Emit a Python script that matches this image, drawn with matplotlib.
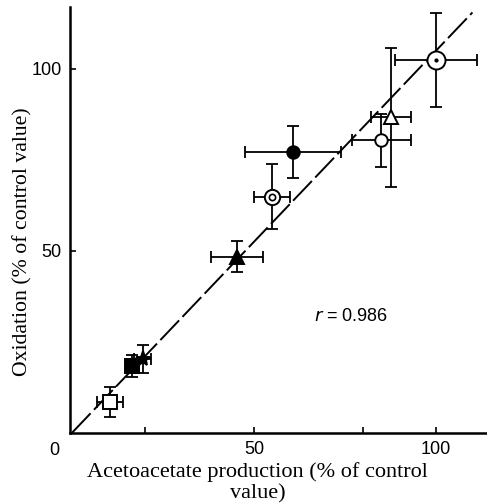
import matplotlib.pyplot as plt

# Values (% of control value)
acetoacetate = [10.4, 16.6, 19.5, 45.4, 55.0, 60.7, 85.0, 87.7, 100.0]
acetoacetate_err = [3.6, 1.7, 2.3, 7.2, 4.9, 13.1, 8.1, 5.5, 11.3]
oxidation = [8.4, 18.4, 20.3, 48.4, 64.9, 77.2, 80.4, 86.7, 102.4]
oxidation_err = [4.1, 3.0, 3.8, 4.2, 8.9, 7.1, 7.3, 19.0, 12.9]
symbols = ["open_square", "square", "star", "triangle", "double_circle",
           "circle", "open_circle", "open_triangle", "dot_circle"]

fit_x = [0, 110]
fit_slope = 1.05
r_value = 0.986

fig = plt.figure(figsize=(4.87, 5.04), dpi=100)
ax = fig.add_axes([70 / 487, 71 / 504, 417 / 487, 426 / 504])

ax.plot(fit_x, [fit_slope * v for v in fit_x], color="black", lw=1.4,
        dashes=(14, 2.5), zorder=1)

style = {
    "open_square": dict(marker="s", ms=10, mfc="white"),
    "square": dict(marker="s", ms=10, mfc="black"),
    "star": dict(marker="*", ms=11, mfc="black"),
    "triangle": dict(marker="^", ms=10, mfc="black"),
    "double_circle": dict(marker="o", ms=11, mfc="white"),
    "circle": dict(marker="o", ms=9, mfc="black"),
    "open_circle": dict(marker="o", ms=9, mfc="white"),
    "open_triangle": dict(marker="^", ms=10, mfc="white"),
    "dot_circle": dict(marker="o", ms=13, mfc="white"),
}

for x, xe, y, ye, s in zip(acetoacetate, acetoacetate_err, oxidation, oxidation_err, symbols):
    ax.errorbar(x, y, xerr=xe, yerr=ye, fmt="none", ecolor="black",
                elinewidth=1.3, capsize=4, capthick=1.3, zorder=2)
    ax.plot(x, y, linestyle="none", mec="black", mew=1.4, zorder=3, **style[s])
    if s == "double_circle":
        ax.plot(x, y, marker="o", ms=4.5, mfc="white", mec="black", mew=1.2, zorder=4)
    if s == "dot_circle":
        ax.plot(x, y, marker="o", ms=2, mfc="black", mec="black", zorder=4)

ax.set_xlim(-0.5, 114)
ax.set_ylim(0, 117)

for side in ("top", "right"):
    ax.spines[side].set_visible(False)
ax.spines["left"].set_linewidth(1.8)
ax.spines["bottom"].set_linewidth(1.8)

ax.set_xticks([20, 50, 80, 100])
ax.set_xticklabels(["", "50", "", "100"])
ax.set_yticks([50, 100])
ax.set_yticklabels(["50", "100"])
ax.tick_params(direction="in", length=4, width=1.2, labelsize=13, pad=6)
for lab in ax.get_xticklabels() + ax.get_yticklabels():
    lab.set_family("Liberation Sans")

ax.text(-3.5, -2.5, "0", ha="right", va="top", fontsize=13, family="Liberation Sans")
ax.text(76.8, 32, f"$\\it{{r}}$ = {r_value}", ha="center", va="center",
        fontsize=13, family="Liberation Sans")

ax.set_xlabel("Acetoacetate production (% of control\nvalue)", family="Liberation Serif",
              fontsize=16, linespacing=1.15)
ax.set_ylabel("Oxidation (% of control value)", family="Liberation Serif", fontsize=15.7)
ax.xaxis.set_label_coords(0.45, -0.068, transform=ax.transAxes)
ax.xaxis.label.set_va("top")
ax.yaxis.set_label_coords(-0.091, 0.45, transform=ax.transAxes)

fig.savefig("out.png", dpi=100)
